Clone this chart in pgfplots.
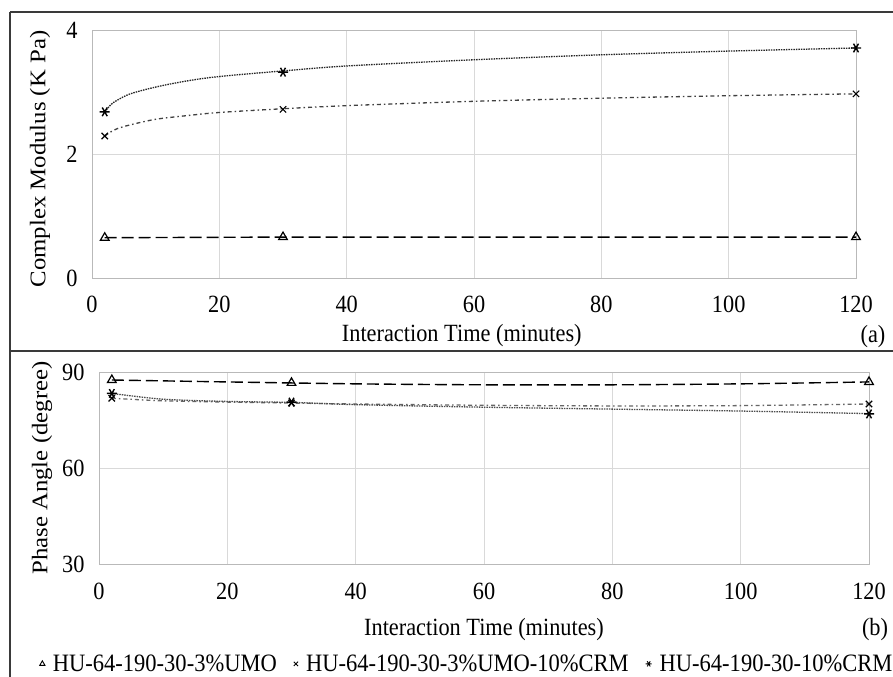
\documentclass[border=0pt]{standalone}
\usepackage{pgfplots}
\pgfplotsset{compat=1.18}
\usepackage{graphicx}
\usepackage{fontspec}
\setmainfont{Liberation Serif}
\definecolor{gridc}{HTML}{D9D9D9}
\definecolor{framec}{HTML}{3A3A3A}
\newcommand{\vs}[1]{\scalebox{1}[1.11]{#1}}
\newcommand{\hs}[1]{\scalebox{1.11}[1]{#1}}
\begin{document}
\begin{tikzpicture}
\path[use as bounding box] (0bp,0bp) rectangle (893bp,-677bp);
\fill[white] (0bp,0bp) rectangle (893bp,-677bp);
\draw[framec,line width=1.8bp] (10bp,-12bp) -- (895bp,-12bp);
\draw[framec,line width=1.8bp] (10bp,-12bp) -- (10bp,-679bp);
\draw[framec,line width=1.8bp] (10bp,-351bp) -- (895bp,-351bp);
\pgfplotsset{
  every axis/.append style={
    scale only axis,
    font=\fontsize{22.4}{26}\selectfont,
    /pgf/number format/assume math mode=true,
    xmin=0, xmax=120,
    xtick={0,20,...,120},
    xticklabel={\vs{\pgfmathprintnumber{\tick}}},
    yticklabel={\vs{\pgfmathprintnumber{\tick}}},
    grid=major,
    grid style={gridc, line width=0.8bp},
    axis line style={draw=gray!55, line width=0.8bp},
    major tick length=0pt,
    xticklabel shift=15bp,
    yticklabel shift=11bp,
    tick align=inside,
  },
}
% ---------------- (a)
\begin{axis}[
  at={(92bp,-278bp)}, anchor=south west,
  width=764bp, height=248bp,
  ymin=0, ymax=4, ytick={0,2,4},
  xlabel={\vs{Interaction Time (minutes)}},
  ylabel={\hs{Complex Modulus (K Pa)}},
  xlabel style={at={(axis description cs:0.484,-0.232)}, anchor=center},
  ylabel style={at={(axis description cs:-0.068,0.48)}, anchor=center},
]
% trendlines
\addplot[black, line width=1.4bp, dash pattern=on 12bp off 5bp, forget plot] coordinates {(2,0.65)(30,0.66)(60,0.66)(90,0.66)(120,0.66)};
\addplot[black!75, line width=1.3bp, dash pattern=on 4bp off 3bp on 1.5bp off 3bp, smooth, forget plot] coordinates {(2,2.29)(3,2.36)(4,2.41)(6,2.47)(10,2.56)(15,2.62)(20,2.67)(30,2.73)(40,2.78)(60,2.85)(80,2.90)(100,2.94)(120,2.97)};
\addplot[black!85, line width=1.3bp, dash pattern=on 1.5bp off 1bp, smooth, forget plot] coordinates {(2,2.68)(3,2.80)(4,2.87)(6,2.97)(10,3.08)(15,3.18)(20,3.25)(30,3.34)(40,3.42)(60,3.52)(80,3.60)(100,3.66)(120,3.71)};
% data points
\addplot[only marks, mark=triangle, mark size=5bp, black, line width=1.2bp, forget plot] coordinates {(2,0.65)(30,0.66)(120,0.66)};
\addplot[only marks, mark=x, mark size=4.5bp, black, line width=1.2bp, forget plot] coordinates {(2,2.29)(30,2.72)(120,2.97)};
\addplot[only marks, mark=asterisk, mark size=5bp, black, line width=1.4bp, mark options={rotate=90}, forget plot] coordinates {(2,2.68)(30,3.32)(120,3.71)};
\end{axis}
\node[font=\fontsize{22.4}{26}\selectfont] at (873bp,-337bp) {\vs{(a)}};
% ---------------- (b)
\begin{axis}[
  at={(99bp,-564bp)}, anchor=south west,
  width=770bp, height=192bp,
  ymin=30, ymax=90, ytick={30,60,90},
  xlabel={\vs{Interaction Time (minutes)}},
  ylabel={\hs{Phase Angle (degree)}},
  xlabel style={at={(axis description cs:0.5,-0.34)}, anchor=center},
  ylabel style={at={(axis description cs:-0.074,0.5)}, anchor=center},
  legend columns=3,
  legend style={at={(axis description cs:0.478,-0.52)}, anchor=center, draw=none, fill=none,
    font=\fontsize{22.6}{26}\selectfont, inner sep=0pt,
    /tikz/every odd column/.append style={column sep=6bp},
    /tikz/every even column/.append style={column sep=15bp}},
  legend cell align=left,
  legend image code/.code={\draw[#1, mark size=3bp, line width=0.9bp] plot coordinates {(0bp,0bp)};},
]
\addplot[black, line width=1.4bp, dash pattern=on 12bp off 5bp, smooth, forget plot] coordinates {(2,87.5)(20,86.9)(40,86.3)(60,86.0)(80,86.0)(100,86.3)(120,86.9)};
\addplot[black!60, line width=1.3bp, dash pattern=on 4bp off 3bp on 1.5bp off 3bp, smooth, forget plot] coordinates {(2,81.8)(10,81.0)(20,80.6)(30,80.3)(40,80.0)(60,79.6)(80,79.4)(100,79.5)(120,80.0)};
\addplot[black!70, line width=1.3bp, dash pattern=on 1.5bp off 1bp, smooth, forget plot] coordinates {(2,83.3)(10,81.5)(20,80.8)(30,80.5)(40,79.8)(60,79.0)(80,78.4)(100,77.8)(120,77.0)};
\addplot[only marks, mark=triangle, mark size=5bp, black, line width=1.2bp] coordinates {(2,87.5)(30,86.6)(120,86.9)};
\addlegendentry{\vs{HU-64-190-30-3\%UMO}}
\addplot[only marks, mark=x, mark size=4.5bp, black, line width=1.2bp] coordinates {(2,81.8)(30,80.3)(120,80.0)};
\addlegendentry{\vs{HU-64-190-30-3\%UMO-10\%CRM}}
\addplot[only marks, mark=asterisk, mark size=5bp, black, line width=1.4bp, mark options={rotate=90}] coordinates {(2,83.3)(30,80.6)(120,76.9)};
\addlegendentry{\vs{HU-64-190-30-10\%CRM}}
\end{axis}
\node[font=\fontsize{22.4}{26}\selectfont] at (875bp,-630bp) {\vs{(b)}};
\end{tikzpicture}
\end{document}
